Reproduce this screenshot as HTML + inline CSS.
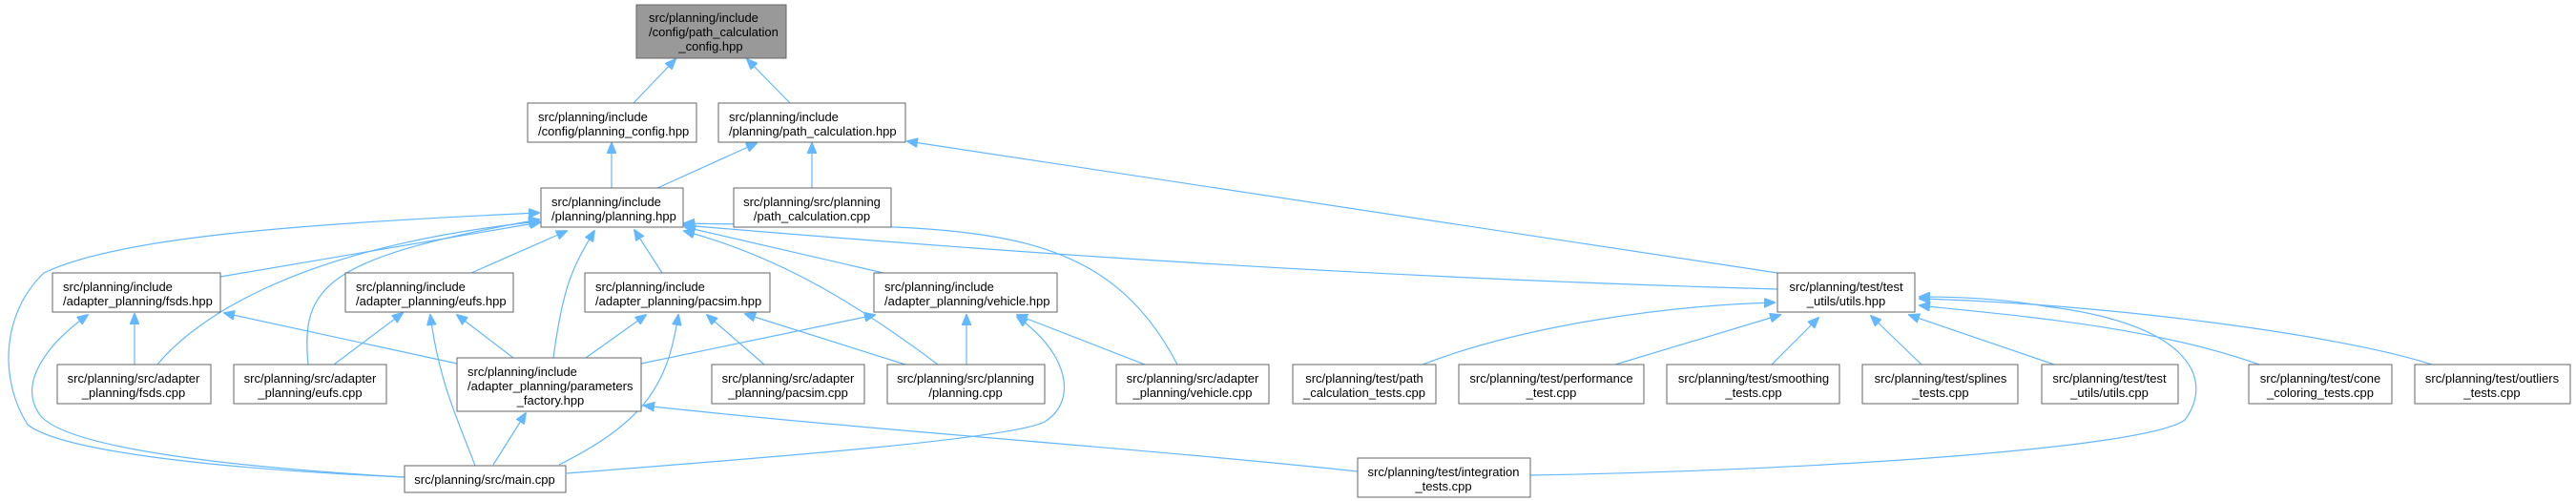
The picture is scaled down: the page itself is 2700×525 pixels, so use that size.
<!DOCTYPE html>
<html><head><meta charset="utf-8"><style>
html,body{margin:0;padding:0;background:#fff;}
svg{display:block;}
text{font-family:"Liberation Sans",Arial,sans-serif;font-size:13px;fill:#000;}
rect{fill:#fff;stroke:#666;stroke-width:1;}
path{fill:none;stroke:#63b8ff;stroke-width:1.2;}
</style></head><body>
<svg width="2700" height="525" viewBox="0 0 2700 525" xmlns="http://www.w3.org/2000/svg">
<defs>
<marker id="a" viewBox="0 0 12 10" refX="11" refY="5" markerWidth="12" markerHeight="10" markerUnits="userSpaceOnUse" orient="auto">
<path d="M0,0 L12,5 L0,10 z" style="fill:#63b8ff;stroke:#63b8ff;stroke-width:1"/>
</marker>
</defs>
<g marker-end="url(#a)">
<path d="M664,108 L708,62"/>
<path d="M828,108 L783,62"/>
<path d="M641,197 L641,150"/>
<path d="M689,197 L793,150"/>
<path d="M851,197 L851,150"/>
<path d="M1863,286 L951,148"/>
<path d="M231,290 L566,233"/>
<path d="M494,286 L594,242"/>
<path d="M694,286 L665,241"/>
<path d="M926,286 L718,238"/>
<path d="M983,382 C900,320 820,270 717,242"/>
<path d="M1863,303 C1400,290 1000,260 717,236"/>
<path d="M1234,382 C1150,220 1000,240 717,234"/>
<path d="M580,375 C590,300 600,280 623,242"/>
<path d="M165,382 C200,340 300,260 565,232"/>
<path d="M323,382 C315,300 340,270 565,230"/>
<path d="M424,500 C200,490 60,470 29,445 C0,400 0,330 46,286 C120,250 300,235 565,223"/>
<path d="M424,500 C250,490 60,470 40,432 C20,400 50,360 92,330"/>
<path d="M141,382 L141,329"/>
<path d="M479,381 L235,328"/>
<path d="M350,382 L422,328"/>
<path d="M498,488 C480,440 460,400 451,330"/>
<path d="M538,375 L479,330"/>
<path d="M614,375 L677,330"/>
<path d="M586,487 C680,440 700,400 711,330"/>
<path d="M801,382 L741,330"/>
<path d="M949,382 L781,329"/>
<path d="M517,487 L551,433"/>
<path d="M1423,494 C1200,470 900,450 675,425"/>
<path d="M672,381 L917,330"/>
<path d="M1013,382 L1013,330"/>
<path d="M1200,382 L1066,330"/>
<path d="M594,496 C800,480 1060,460 1095,442 C1130,420 1120,370 1066,332"/>
<path d="M1491,382 C1600,340 1750,320 1860,317"/>
<path d="M1693,382 L1866,330"/>
<path d="M1857,382 L1906,333"/>
<path d="M2014,382 L1961,331"/>
<path d="M2153,382 L2001,330"/>
<path d="M2368,382 C2250,340 2100,330 2012,320"/>
<path d="M2549,382 C2450,350 2200,318 2012,313"/>
<path d="M1604,498 C1900,493 2250,470 2290,440 C2320,400 2300,340 2144,321 C2100,313 2050,311 2012,311"/>
</g>
<rect x="667" y="5" width="157" height="56" style="fill:#999"/>
<text x="680" y="23">src/planning/include</text><text x="680" y="38">/config/path_calculation</text><text x="745" y="53" text-anchor="middle">_config.hpp</text>
<rect x="553" y="108" width="177" height="41"/>
<text x="564" y="127">src/planning/include</text><text x="564" y="142">/config/planning_config.hpp</text>
<rect x="753" y="108" width="196" height="41"/>
<text x="764" y="127">src/planning/include</text><text x="764" y="142">/planning/path_calculation.hpp</text>
<rect x="567" y="197" width="149" height="41"/>
<text x="578" y="216">src/planning/include</text><text x="578" y="231">/planning/planning.hpp</text>
<rect x="769" y="197" width="165" height="41"/>
<text x="851" y="216" text-anchor="middle">src/planning/src/planning</text><text x="851" y="231" text-anchor="middle">/path_calculation.cpp</text>
<rect x="55" y="286" width="176" height="41"/>
<text x="66" y="305">src/planning/include</text><text x="66" y="320">/adapter_planning/fsds.hpp</text>
<rect x="362" y="286" width="176" height="41"/>
<text x="373" y="305">src/planning/include</text><text x="373" y="320">/adapter_planning/eufs.hpp</text>
<rect x="613" y="286" width="194" height="41"/>
<text x="624" y="305">src/planning/include</text><text x="624" y="320">/adapter_planning/pacsim.hpp</text>
<rect x="916" y="286" width="192" height="41"/>
<text x="927" y="305">src/planning/include</text><text x="927" y="320">/adapter_planning/vehicle.hpp</text>
<rect x="1863" y="286" width="144" height="41"/>
<text x="1935" y="305" text-anchor="middle">src/planning/test/test</text><text x="1935" y="320" text-anchor="middle">_utils/utils.hpp</text>
<rect x="60" y="382" width="161" height="41"/>
<text x="140" y="401" text-anchor="middle">src/planning/src/adapter</text><text x="140" y="416" text-anchor="middle">_planning/fsds.cpp</text>
<rect x="245" y="382" width="160" height="41"/>
<text x="325" y="401" text-anchor="middle">src/planning/src/adapter</text><text x="325" y="416" text-anchor="middle">_planning/eufs.cpp</text>
<rect x="479" y="375" width="193" height="56"/>
<text x="490" y="394">src/planning/include</text><text x="490" y="409">/adapter_planning/parameters</text><text x="577" y="424" text-anchor="middle">_factory.hpp</text>
<rect x="746" y="382" width="160" height="41"/>
<text x="826" y="401" text-anchor="middle">src/planning/src/adapter</text><text x="826" y="416" text-anchor="middle">_planning/pacsim.cpp</text>
<rect x="930" y="382" width="165" height="41"/>
<text x="1012" y="401" text-anchor="middle">src/planning/src/planning</text><text x="1012" y="416" text-anchor="middle">/planning.cpp</text>
<rect x="1170" y="382" width="160" height="41"/>
<text x="1250" y="401" text-anchor="middle">src/planning/src/adapter</text><text x="1250" y="416" text-anchor="middle">_planning/vehicle.cpp</text>
<rect x="1355" y="382" width="150" height="41"/>
<text x="1430" y="401" text-anchor="middle">src/planning/test/path</text><text x="1430" y="416" text-anchor="middle">_calculation_tests.cpp</text>
<rect x="1529" y="382" width="194" height="41"/>
<text x="1626" y="401" text-anchor="middle">src/planning/test/performance</text><text x="1626" y="416" text-anchor="middle">_test.cpp</text>
<rect x="1747" y="382" width="181" height="41"/>
<text x="1838" y="401" text-anchor="middle">src/planning/test/smoothing</text><text x="1838" y="416" text-anchor="middle">_tests.cpp</text>
<rect x="1952" y="382" width="163" height="41"/>
<text x="2034" y="401" text-anchor="middle">src/planning/test/splines</text><text x="2034" y="416" text-anchor="middle">_tests.cpp</text>
<rect x="2140" y="382" width="143" height="41"/>
<text x="2211" y="401" text-anchor="middle">src/planning/test/test</text><text x="2211" y="416" text-anchor="middle">_utils/utils.cpp</text>
<rect x="2357" y="382" width="150" height="41"/>
<text x="2432" y="401" text-anchor="middle">src/planning/test/cone</text><text x="2432" y="416" text-anchor="middle">_coloring_tests.cpp</text>
<rect x="2531" y="382" width="163" height="41"/>
<text x="2612" y="401" text-anchor="middle">src/planning/test/outliers</text><text x="2612" y="416" text-anchor="middle">_tests.cpp</text>
<rect x="424" y="488" width="169" height="28"/>
<text x="508" y="507" text-anchor="middle">src/planning/src/main.cpp</text>
<rect x="1423" y="480" width="181" height="41"/>
<text x="1513" y="499" text-anchor="middle">src/planning/test/integration</text><text x="1513" y="514" text-anchor="middle">_tests.cpp</text>
</svg>
</body></html>
